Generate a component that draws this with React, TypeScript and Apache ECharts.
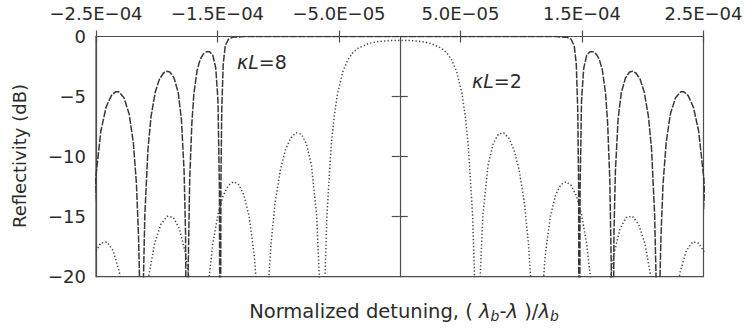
import React, { useEffect, useRef } from "react";
import * as echarts from "echarts";

// Axis ticks and labels
const X_TICKS = [-2.5e-4, -1.5e-4, -5.0e-5, 5.0e-5, 1.5e-4, 2.5e-4];
const X_TICK_LABELS = ["−2.5E−04", "−1.5E−04", "−5.0E−05", "5.0E−05", "1.5E−04", "2.5E−04"];
const Y_TICKS = [-20, -15, -10, -5, 0];
const Y_TICK_LABELS = ["−20", "−15", "−10", "−5", "0"];
const CENTER_TICKS = [-15, -10, -5];

// Normalized detuning (in units of 1E-04) and reflectivity (dB), κL = 8
const KL8_DETUNING = [
  -2.528, -2.503, -2.46, -2.417, -2.374, -2.339, -2.313, -2.27, -2.227, -2.193, -2.167, -2.15, -2.141, -2.126,
  -2.116, -2.098, -2.073, -2.047, -2.012, -1.978, -1.944, -1.918, -1.892, -1.858, -1.823, -1.797, -1.775, -1.763,
  -1.75, -1.741, -1.729, -1.711, -1.694, -1.668, -1.643, -1.617, -1.591, -1.565, -1.539, -1.514, -1.496, -1.484,
  -1.478, -1.472, -1.465, -1.453, -1.436, -1.41, -1.376, -1.29, -1.204, -0.6, 0,
  0.6, 1.204, 1.29, 1.376, 1.41, 1.436, 1.453, 1.465, 1.472, 1.478, 1.484, 1.496, 1.514, 1.539, 1.565, 1.591,
  1.617, 1.643, 1.668, 1.694, 1.711, 1.729, 1.741, 1.75, 1.763, 1.775, 1.797, 1.823, 1.858, 1.892, 1.918, 1.944,
  1.978, 2.012, 2.047, 2.073, 2.098, 2.116, 2.126, 2.141, 2.15, 2.167, 2.193, 2.227, 2.27, 2.313, 2.339, 2.374,
  2.417, 2.46, 2.503, 2.528,
];
const KL8_DB = [
  -16.56, -11.84, -7.87, -5.89, -4.92, -4.61, -4.61, -5.09, -6.46, -8.82, -12.28, -16.63, -20.45, -40,
  -23.1, -14.87, -9.47, -6.67, -4.62, -3.55, -3.04, -2.9, -2.96, -3.44, -4.7, -6.9, -11.2, -16.29,
  -40, -19.24, -11.96, -7.21, -4.72, -2.83, -1.91, -1.46, -1.27, -1.27, -1.55, -2.64, -5.36, -12.8,
  -40, -12.2, -6.1, -2.29, -0.77, -0.23, -0.07, -0.01, 0, 0, 0,
  0, 0, -0.01, -0.07, -0.23, -0.77, -2.29, -6.1, -12.2, -40, -12.8, -5.36, -2.64, -1.55, -1.27, -1.27,
  -1.46, -1.91, -2.83, -4.72, -7.21, -11.96, -19.24, -40, -16.29, -11.2, -6.9, -4.7, -3.44, -2.96, -2.9, -3.04,
  -3.55, -4.62, -6.67, -9.47, -14.87, -23.1, -40, -20.45, -16.63, -12.28, -8.82, -6.46, -5.09, -4.61, -4.61, -4.92,
  -5.89, -7.87, -11.84, -16.56,
];

// Normalized detuning (in units of 1E-04) and reflectivity (dB), κL = 2
const KL2_DETUNING = [
  -2.514, -2.462, -2.411, -2.36, -2.309, -2.274, -2.175, -2.069, -2.018, -1.967, -1.915, -1.864, -1.813, -1.761,
  -1.727, -1.648, -1.573, -1.539, -1.496, -1.454, -1.411, -1.368, -1.325, -1.283, -1.24, -1.197, -1.171, -1.129,
  -1.086, -1.06, -1.026, -0.983, -0.941, -0.898, -0.855, -0.812, -0.77, -0.727, -0.684, -0.658, -0.636, -0.616,
  -0.599, -0.564, -0.54, -0.513, -0.47, -0.428, -0.385, -0.342, -0.257, -0.171, -0.086, 0,
  0.086, 0.171, 0.257, 0.342, 0.385, 0.428, 0.47, 0.513, 0.54, 0.564, 0.599, 0.616, 0.636, 0.658, 0.684, 0.727,
  0.77, 0.812, 0.855, 0.898, 0.941, 0.983, 1.026, 1.06, 1.086, 1.129, 1.171, 1.197, 1.24, 1.283, 1.325, 1.368,
  1.411, 1.454, 1.496, 1.539, 1.573, 1.648, 1.727, 1.761, 1.813, 1.864, 1.915, 1.967, 2.018, 2.069, 2.175, 2.274,
  2.309, 2.36, 2.411, 2.462, 2.514,
];
const KL2_DB = [
  -18.12, -17.21, -17.1, -17.81, -19.55, -21.57, -40, -20.13, -17.25, -15.66, -14.97, -15.06, -16.02, -18.18,
  -20.7, -40, -20.41, -17.29, -14.81, -13.27, -12.4, -12.09, -12.33, -13.2, -14.95, -18.27, -21.9, -40,
  -21.5, -17.32, -13.85, -11.14, -9.45, -8.46, -8.02, -8.12, -8.88, -10.7, -14.89, -20.96, -40, -20.15,
  -14.78, -9.06, -6.68, -4.8, -2.98, -1.95, -1.34, -0.97, -0.58, -0.41, -0.34, -0.32,
  -0.34, -0.41, -0.58, -0.97, -1.34, -1.95, -2.98, -4.8, -6.68, -9.06, -14.78, -20.15, -40, -20.96, -14.89, -10.7,
  -8.88, -8.12, -8.02, -8.46, -9.45, -11.14, -13.85, -17.32, -21.5, -40, -21.9, -18.27, -14.95, -13.2, -12.33, -12.09,
  -12.4, -13.27, -14.81, -17.29, -20.41, -40, -20.7, -18.18, -16.02, -15.06, -14.97, -15.66, -17.25, -20.13, -40, -21.57,
  -19.55, -17.81, -17.1, -17.21, -18.12,
];

const FONT = "'DejaVu Sans', 'Liberation Sans', sans-serif";
const INK = "#2b2b2b";
const AXIS = "#4d4d4d";

const pairs = (xs: number[], ys: number[]) => xs.map((x, i) => [x * 1e-4, ys[i]]);

const xLabel = (v: number) => {
  const i = X_TICKS.findIndex((t) => Math.abs(t - v) < 1e-9);
  return i >= 0 ? X_TICK_LABELS[i] : "";
};
const yLabel = (v: number) => {
  const i = Y_TICKS.findIndex((t) => Math.abs(t - v) < 1e-9);
  return i >= 0 ? Y_TICK_LABELS[i] : "";
};

const xBase = {
  type: "value" as const,
  position: "top" as const,
  min: -2.5e-4,
  max: 2.5e-4,
  splitLine: { show: false },
};

const yBase = {
  type: "value" as const,
  min: -20,
  max: 0,
  interval: 5,
  splitLine: { show: false },
};

const option = {
  animation: false,
  backgroundColor: "#ffffff",
  grid: {
    left: 96,
    right: 49.5,
    top: 36.5,
    bottom: 53.3,
    show: true,
    borderColor: AXIS,
    borderWidth: 1.2,
    backgroundColor: "transparent",
  },
  xAxis: [
    {
      ...xBase,
      axisLine: { show: true, onZero: false, lineStyle: { color: AXIS, width: 1.2 } },
      axisTick: { show: true, inside: false, length: 6, customValues: X_TICKS, lineStyle: { color: AXIS, width: 1.2 } },
      axisLabel: {
        show: true,
        customValues: X_TICKS,
        formatter: xLabel,
        margin: 14,
        fontSize: 18,
        fontFamily: FONT,
        color: INK,
      },
    },
    {
      ...xBase,
      axisLine: { show: false, onZero: false },
      axisTick: { show: true, inside: true, length: 6, customValues: X_TICKS, lineStyle: { color: AXIS, width: 1.2 } },
      axisLabel: { show: false },
    },
  ],
  yAxis: [
    {
      ...yBase,
      position: "left" as const,
      axisLine: { show: true, onZero: false, lineStyle: { color: AXIS, width: 1.2 } },
      axisTick: { show: false },
      axisLabel: {
        show: true,
        formatter: yLabel,
        margin: 10,
        fontSize: 18,
        fontFamily: FONT,
        color: INK,
      },
    },
    {
      ...yBase,
      position: "left" as const,
      axisLine: { show: true, onZero: true, lineStyle: { color: AXIS, width: 1.2 } },
      axisTick: { show: true, inside: false, length: 8, customValues: CENTER_TICKS, lineStyle: { color: AXIS, width: 1.2 } },
      axisLabel: { show: false },
    },
    {
      ...yBase,
      position: "left" as const,
      axisLine: { show: false, onZero: true },
      axisTick: { show: true, inside: true, length: 8, customValues: CENTER_TICKS, lineStyle: { color: AXIS, width: 1.2 } },
      axisLabel: { show: false },
    },
  ],
  series: [
    {
      name: "κL=8",
      type: "line",
      xAxisIndex: 0,
      yAxisIndex: 0,
      data: pairs(KL8_DETUNING, KL8_DB),
      showSymbol: false,
      symbol: "none",
      clip: true,
      lineStyle: { color: "#383838", width: 1.5, type: [7, 1.5] },
      z: 3,
    },
    {
      name: "κL=2",
      type: "line",
      xAxisIndex: 0,
      yAxisIndex: 0,
      data: pairs(KL2_DETUNING, KL2_DB),
      showSymbol: false,
      symbol: "none",
      clip: true,
      lineStyle: { color: "#444444", width: 1.5, type: [1.3, 2.2] },
      z: 3,
    },
  ],
  graphic: [
    {
      type: "text",
      x: 19,
      y: 156,
      rotation: Math.PI / 2,
      style: {
        text: "Reflectivity (dB)",
        fontSize: 18,
        fontFamily: FONT,
        fill: INK,
        align: "center",
        verticalAlign: "middle",
      },
    },
    {
      type: "text",
      x: 404,
      y: 311,
      style: {
        text: "{n|Normalized detuning, ( }{i|λ}{s|b}{n|-}{i|λ}{n| )/}{i|λ}{s|b}",
        align: "center",
        verticalAlign: "middle",
        fill: INK,
        rich: {
          n: { fontSize: 19.5, fontFamily: FONT, fill: INK, lineHeight: 24 },
          i: { fontSize: 19.5, fontFamily: FONT, fontStyle: "italic", fill: INK, lineHeight: 24 },
          s: { fontSize: 14, fontFamily: FONT, fontStyle: "italic", fill: INK, lineHeight: 24, verticalAlign: "bottom" },
        },
      },
    },
    {
      type: "text",
      x: 237,
      y: 62,
      style: {
        text: "{i|κL}{n|=8}",
        align: "left",
        verticalAlign: "middle",
        rich: {
          i: { fontSize: 19, fontFamily: FONT, fontStyle: "italic", fill: INK },
          n: { fontSize: 19, fontFamily: FONT, fill: INK },
        },
      },
    },
    {
      type: "text",
      x: 472,
      y: 81,
      style: {
        text: "{i|κL}{n|=2}",
        align: "left",
        verticalAlign: "middle",
        rich: {
          i: { fontSize: 19, fontFamily: FONT, fontStyle: "italic", fill: INK },
          n: { fontSize: 19, fontFamily: FONT, fill: INK },
        },
      },
    },
  ],
};

export default function App() {
  const ref = useRef<HTMLDivElement>(null);
  useEffect(() => {
    if (!ref.current) return;
    const chart = echarts.init(ref.current, null, { renderer: "svg" });
    chart.setOption(option as any);
    return () => chart.dispose();
  }, []);
  return (
    <div
      ref={ref}
      style={{ position: "fixed", left: 0, top: 0, width: 753, height: 330, background: "#fff" }}
    />
  );
}
